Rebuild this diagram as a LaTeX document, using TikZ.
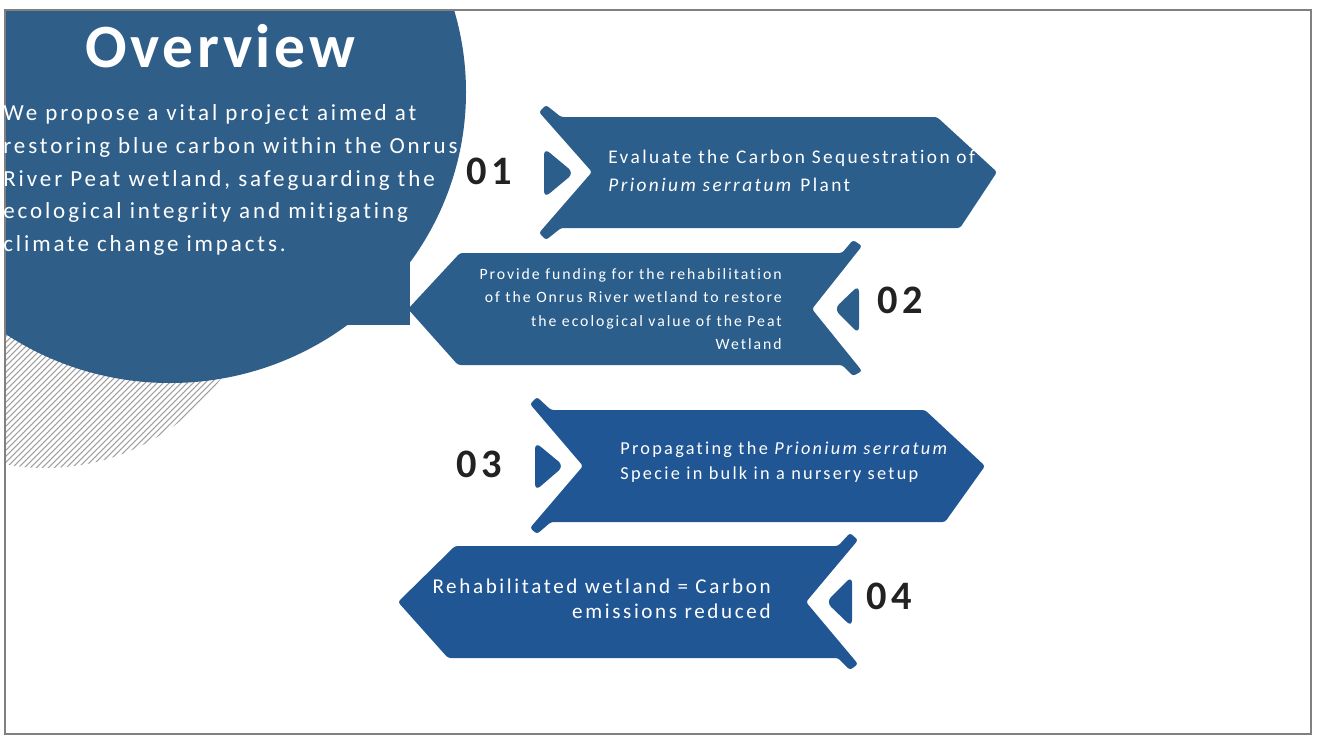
\documentclass[tikz,border=0pt]{standalone}
\usepackage{fontspec}
\setmainfont{Carlito}[LetterSpace=12.5, Ligatures=NoCommon]
\newfontfamily\headfont{Carlito}[LetterSpace=6, Ligatures=NoCommon]
\definecolor{circleblue}{RGB}{47,95,137}
\definecolor{ribbonA}{RGB}{44,94,140}
\definecolor{ribbonB}{RGB}{33,86,148}
\definecolor{numgray}{RGB}{34,34,34}
\tikzset{
  ribbon/.style={fill=#1, rounded corners=1.5pt},
  tag/.style={fill=#1, rounded corners=4pt},
  steptext/.style={text=white, inner sep=0pt},
  stepnum/.style={text=numgray, inner sep=0pt, anchor=base west,
    font=\bfseries\fontsize{23}{26}\selectfont},
}
\begin{document}
\begin{tikzpicture}[x=0.02cm, y=-0.02cm]
\useasboundingbox (0,0) rectangle (1317,738);

% overview disc, with the hatching behind it
\begin{scope}
\clip (5,10) rectangle (1311,734);
\begin{scope}
\clip (45,250) circle[radius=218];
\foreach \k in {-630,-624,...,260}
  \draw[gray!75, line width=0.6pt] (\k,480) -- (\k+400,80);
\end{scope}
\fill[circleblue] (170,92) ellipse[x radius=296, y radius=291];
\fill[circleblue] (250,253) rectangle (410,325);
\end{scope}
\draw[gray, line width=1.1pt] (5,10) rectangle (1311,734);

\node[anchor=base, text=white, inner sep=0pt,
  font=\headfont\bfseries\fontsize{35}{40}\selectfont] (title) at (220,67) {Overview};
\node[anchor=north west, text=white, inner sep=0pt, align=left,
  font=\fontsize{13.1}{18.7}\selectfont] (intro) at (3,104)
  {We propose a vital project aimed at\\
   restoring blue carbon within the Onrus\\
   River Peat wetland, safeguarding the\\
   ecological integrity and mitigating\\
   climate change impacts.};

% step 01
\path[ribbon=ribbonA] (592,172) -- (539,112) -- (546,105) -- (561,117) -- (937,117)
  -- (997,172) -- (960,228) -- (561,228) -- (546,240) -- (539,233) -- cycle;
\path[tag=ribbonA] (544,148) -- (574,173) -- (544,198) -- cycle;
\node[steptext, anchor=north west, align=left,
  font=\fontsize{11}{15.9}\selectfont] (txt1) at (608,150)
  {Evaluate the Carbon Sequestration of\\ \textit{Prionium serratum} Plant};
\node[stepnum] (num1) at (466,184) {01};

% step 02
\path[ribbon=ribbonA] (812,309) -- (862,246) -- (853,240) -- (842,253) -- (460,253)
  -- (408,309) -- (458,365) -- (842,365) -- (853,376) -- (862,371) -- cycle;
\path[tag=ribbonA] (859,285) -- (834,309) -- (859,334) -- cycle;
\node[steptext, anchor=north east, align=right,
  font=\fontsize{8.96}{13.3}\selectfont] (txt2) at (782,268)
  {Provide funding for the rehabilitation\\ of the Onrus River wetland to restore\\
   the ecological value of the Peat\\ Wetland};
\node[stepnum] (num2) at (877,313) {02};

% step 03
\path[ribbon=ribbonB] (583,466) -- (530,404) -- (537,397) -- (551,410) -- (925,410)
  -- (985,466) -- (945,522) -- (551,522) -- (537,534) -- (530,528) -- cycle;
\path[tag=ribbonB] (535,442) -- (564,466) -- (535,491) -- cycle;
\node[steptext, anchor=north west, align=left,
  font=\fontsize{10.4}{14.2}\selectfont] (txt3) at (620,441)
  {Propagating the \textit{Prionium serratum}\\ Specie in bulk in a nursery setup};
\node[stepnum] (num3) at (456,477) {03};

% step 04
\path[ribbon=ribbonB] (806,602) -- (858,540) -- (850,533) -- (838,546) -- (455,546)
  -- (398,602) -- (448,658) -- (838,658) -- (850,670) -- (858,664) -- cycle;
\path[tag=ribbonB] (852,576) -- (826,602) -- (852,627) -- cycle;
\node[steptext, anchor=north east, align=right,
  font=\fontsize{12}{14.7}\selectfont] (txt4) at (771,578)
  {Rehabilitated wetland = Carbon\\ emissions reduced};
\node[stepnum] (num4) at (866,609) {04};
\end{tikzpicture}
\end{document}
